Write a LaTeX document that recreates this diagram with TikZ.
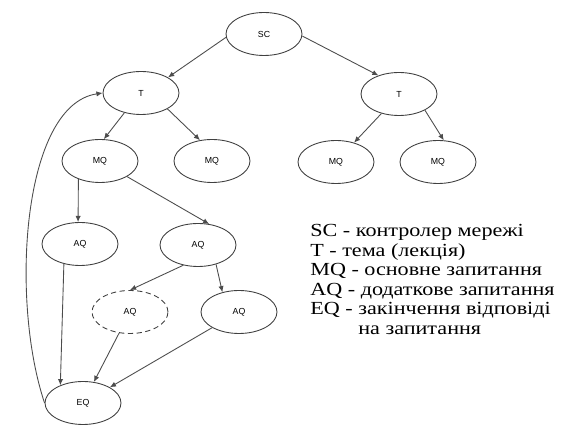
\documentclass[tikz,border=0pt]{standalone}
\usepackage{fontspec}
\setmainfont{Liberation Serif}
\newfontfamily\lblfont{Liberation Sans}
\newfontfamily\legfont[FakeStretch=1.2]{Liberation Serif}
\usetikzlibrary{arrows.meta,shapes.geometric}

\begin{document}
\begin{tikzpicture}[x=0.02cm,y=-0.02cm,
    vert/.style={ellipse,draw=black!75,line width=0.5pt,inner sep=0pt,
      minimum width=1.52cm,minimum height=0.86cm,font=\lblfont\fontsize{5}{6}\selectfont},
    edge/.style={draw=black!70,line width=0.5pt,-{Latex[length=3.5pt,width=3pt]}}]
    \useasboundingbox (0,0) rectangle (565,428);
    \node[vert] (sc) at (264,34) {SC};
    \node[vert] (t1) at (141,93) {T};
    \node[vert] (t2) at (399,94) {T};
    \node[vert] (mq1) at (100,161) {MQ};
    \node[vert] (mq2) at (212,161) {MQ};
    \node[vert] (mq3) at (336,162) {MQ};
    \node[vert] (mq4) at (438,162) {MQ};
    \node[vert] (aq1) at (80,244) {AQ};
    \node[vert] (aq2) at (198,245) {AQ};
    \node[vert,dashed,dash pattern=on 3pt off 2pt] (aq3) at (130,312) {AQ};
    \node[vert] (aq4) at (239,312) {AQ};
    \node[vert] (eq) at (83,403) {EQ};
    \draw[edge] (sc.185) -- (t1.30);
    \draw[edge] (sc.-3) -- (t2.138);
    \draw[edge] (t1.230) -- (mq1.80);
    \draw[edge] (t1.-31) -- (mq2.120);
    \draw[edge] (t2.228) -- (mq3.47);
    \draw[edge] (t2.-32) -- (mq4.75);
    \draw[edge] (mq1.220) -- (aq1.95);
    \draw[edge] (mq1.-30) -- (aq2.62);
    \draw[edge] (aq2.234) -- (aq3.north);
    \draw[edge] (aq2.-47) -- (aq4.130);
    \draw[edge] (aq1.231) -- (eq.142);
    \draw[edge] (aq3) -- (eq);
    \draw[edge] (aq4) -- (eq);
    \draw[edge] (eq.west) .. controls (10,300) and (22,105) .. (t1.west);
    \node[anchor=north west,align=left,inner sep=0pt,
      font=\legfont\fontsize{10.5}{11.1}\selectfont] (legend) at (310,224)
      {SC - контролер мережі\\
       T - тема (лекція)\\
       MQ - основне запитання\\
       AQ - додаткове запитання\\
       EQ - закінчення відповіді\\
       \hphantom{EQ - }на запитання};
\end{tikzpicture}
\end{document}
